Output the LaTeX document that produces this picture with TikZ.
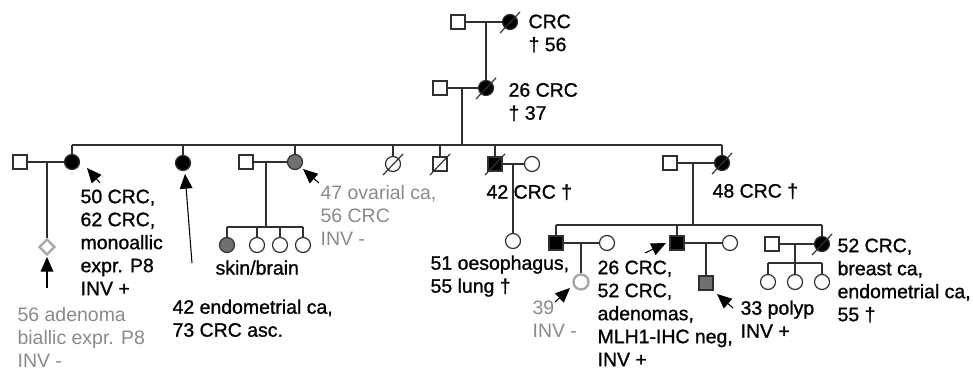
\documentclass[tikz,border=0pt]{standalone}
\usepackage{fontspec}
\setmainfont{Liberation Sans}
\newfontfamily\heavyfont[FakeBold=1.1]{Liberation Sans}
\usetikzlibrary{arrows.meta,shapes.geometric}
\definecolor{lin}{HTML}{303030}
\definecolor{gfill}{HTML}{707070}
\definecolor{gtext}{HTML}{8A8A8A}
\definecolor{glight}{HTML}{A8A8A8}
\begin{document}
\begin{tikzpicture}[x=0.75pt,y=-0.75pt,line width=0.9pt,
  ln/.style={draw=lin},
  male/.style={draw=lin,rectangle,minimum size=10.5pt,inner sep=0pt,fill=white},
  female/.style={draw=lin,circle,minimum size=11.25pt,inner sep=0pt,fill=white},
  aff/.style={fill=black},
  gaff/.style={fill=gfill},
  lbl/.style={font=\heavyfont\fontsize{14.6}{17.25}\selectfont,align=left,anchor=north west,inner sep=0pt,
    execute at begin node={\rule{0pt}{11.25pt}}},
  glbl/.style={lbl,font=\normalfont\fontsize{14.6}{17.25}\selectfont,text=gtext},
  pointer/.style={draw=black,line width=0.8pt,-{Triangle[length=11pt,width=9.5pt]}},
]
\useasboundingbox (0,0) rectangle (973,373);
% generation 1
\node[male] (g1m) at (458,22) {};
\node[female,aff] (g1f) at (510,22) {};
\coordinate (g1c) at (486,22);
\draw[ln] (g1m) -- (g1f);
% generation 2
\node[male] (g2m) at (440,88) {};
\node[female,aff] (g2f) at (486,88) {};
\coordinate (g2c) at (462,88);
\coordinate (s3) at (462,145);
\draw[ln] (g1c) -- (g2f);
\draw[ln] (g2m) -- (g2f);
\draw[ln] (g2c) -- (s3);
% generation 3
\node[male] (a1m) at (20,162) {};
\node[female,aff] (a1f) at (72,162) {};
\node[female,aff] (a2) at (183,163) {};
\node[male] (a3m) at (246,162) {};
\node[female,gaff] (a3f) at (295,162) {};
\node[female] (a4) at (393,164) {};
\node[male] (a5) at (440,164) {};
\node[male,aff] (a6) at (495,164) {};
\node[female] (a6w) at (532,164) {};
\node[male] (a7m) at (670,163) {};
\node[female,aff] (a7f) at (722,163) {};
\draw[ln] (a1f.north |- s3) -- (a7f.north |- s3);
\foreach \n in {a1f,a2,a3f,a4,a5,a6,a7f}
  \draw[ln] (\n.north |- s3) -- (\n.north);
% couple a1
\coordinate (a1c) at (47,162);
\node[diamond,draw=glight,line width=1.8pt,minimum size=12pt,inner sep=0pt,fill=white] (a1k) at (47,247) {};
\draw[ln] (a1m) -- (a1f);
\draw[ln] (a1c) -- (a1k);
% couple a3
\coordinate (a3c) at (266,162);
\coordinate (a3s) at (266,227);
\node[female,gaff] (c1) at (227,245) {};
\node[female] (c2) at (257,245) {};
\node[female] (c3) at (280,245) {};
\node[female] (c4) at (303,245) {};
\draw[ln] (a3m) -- (a3f);
\draw[ln] (a3c) -- (a3s);
\draw[ln] (c1.north |- a3s) -- (c4.north |- a3s);
\foreach \n in {c1,c2,c3,c4}
  \draw[ln] (\n.north |- a3s) -- (\n.north);
% couple a6
\coordinate (a6c) at (513,164);
\node[female] (a6k) at (513,241) {};
\draw[ln] (a6) -- (a6w);
\draw[ln] (a6c) -- (a6k);
% couple a7
\coordinate (a7c) at (693,163);
\coordinate (s4) at (693,225);
\draw[ln] (a7m) -- (a7f);
\draw[ln] (a7c) -- (s4);
% generation 4
\node[male,aff] (b1) at (556,243) {};
\node[female] (b1w) at (607,243) {};
\node[male,aff] (b2) at (677,243) {};
\node[female] (b2w) at (730,243) {};
\node[male] (b3m) at (772,244) {};
\node[female,aff] (b3f) at (822,244) {};
\draw[ln] (b1.north |- s4) -- (b3f.north |- s4);
\foreach \n in {b1,b2,b3f}
  \draw[ln] (\n.north |- s4) -- (\n.north);
\coordinate (b1c) at (581,243);
\node[female,draw=glight,line width=1.8pt] (b1k) at (581,282) {};
\draw[ln] (b1) -- (b1w);
\draw[ln] (b1c) -- (b1k);
\coordinate (b2c) at (706,243);
\node[male,gaff] (b2k) at (706,283) {};
\draw[ln] (b2) -- (b2w);
\draw[ln] (b2c) -- (b2k);
\coordinate (b3c) at (795,244);
\coordinate (b3s) at (795,263);
\node[female] (d1) at (768,282) {};
\node[female] (d2) at (795,282) {};
\node[female] (d3) at (822,282) {};
\draw[ln] (b3m) -- (b3f);
\draw[ln] (b3c) -- (b3s);
\draw[ln] (d1.north |- b3s) -- (d3.north |- b3s);
\foreach \n in {d1,d2,d3}
  \draw[ln] (\n.north |- b3s) -- (\n.north);
% deceased marks
\foreach \n in {g1f,g2f,a4,a5,a6,a7f,b3f}
  \draw[ln] (\n.center) ++(-10,11) -- ++(20,-21);
% labels
\node[lbl] (t1) at (528,14) {CRC\\† 56};
\node[lbl] (t2) at (508,82.5) {26 CRC\\† 37};
\node[lbl] (t3) at (80,189) {50 CRC,\\62 CRC,\\monoallic\\expr. P8\\INV +};
\node[glbl] (t4) at (17,307) {56 adenoma\\biallic expr. P8\\INV -};
\node[lbl] (t5) at (172,299) {42 endometrial ca,\\73 CRC asc.};
\node[lbl] (t6) at (215,259) {skin/brain};
\node[glbl] (t7) at (320,185) {47 ovarial ca,\\56 CRC\\INV -};
\node[lbl] (t8) at (486,183) {42 CRC †};
\node[lbl] (t9) at (430,255) {51 oesophagus,\\55 lung †};
\node[lbl] (t10) at (712,182) {48 CRC †};
\node[glbl] (t11) at (532,300) {39\\INV -};
\node[lbl] (t12) at (597,260) {26 CRC,\\52 CRC,\\adenomas,\\MLH1-IHC neg,\\INV +};
\node[lbl] (t13) at (740,300) {33 polyp\\INV +};
\node[lbl] (t14) at (837,238) {52 CRC,\\breast ca,\\endometrial ca,\\55 †};
% pointers
\coordinate (p1a) at (100,183); \coordinate (p1b) at (87,168);
\coordinate (p2a) at (192,263); \coordinate (p2b) at (185,174);
\coordinate (p3a) at (319,183); \coordinate (p3b) at (303,169);
\coordinate (p4a) at (47,288);  \coordinate (p4b) at (47,257);
\coordinate (p5a) at (555,302); \coordinate (p5b) at (570,288);
\coordinate (p6a) at (645,253); \coordinate (p6b) at (666,243);
\coordinate (p7a) at (733,308); \coordinate (p7b) at (717,294);
\foreach \i in {1,...,7}
  \draw[pointer] (p\i a) -- (p\i b);
\end{tikzpicture}
\end{document}
